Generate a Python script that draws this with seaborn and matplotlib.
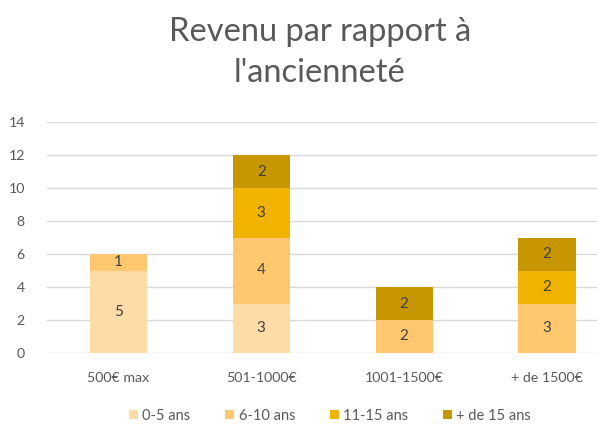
import numpy as np
import seaborn as sns
import matplotlib.pyplot as plt

# Données
categories = ['500€ max', '501-1000€', '1001-1500€', '+ de 1500€']
tranches = ['0-5 ans', '6-10 ans', '11-15 ans', '+ de 15 ans']
v_0_5 = [5, 3, 0, 0]
v_6_10 = [1, 4, 2, 3]
v_11_15 = [0, 3, 0, 2]
v_15_plus = [0, 2, 2, 2]
couleurs = ['#FFDBA8', '#FFC86E', '#F0B400', '#C79600']

sns.set_style("white")
plt.rcParams['font.family'] = ['Lato', 'DejaVu Sans']

fig = plt.figure(figsize=(5.97, 4.30), dpi=100)
ax = fig.add_axes([47 / 597, 77 / 430, 1 - 47 / 597, 231 / 430])

x = np.arange(len(categories))
bottom = np.zeros(len(categories))
for serie, nom, c in zip([v_0_5, v_6_10, v_11_15, v_15_plus], tranches, couleurs):
    vals = np.array(serie, dtype=float)
    bars = ax.bar(x, vals, width=0.4, bottom=bottom, color=c, label=nom,
                  linewidth=0, zorder=3)
    labels = [str(int(v)) if v > 0 else '' for v in vals]
    ax.bar_label(bars, labels=labels, label_type='center', color='#404040', fontsize=11)
    bottom += vals

ax.set_xlim(-0.5, 3.35)
ax.set_ylim(0, 14)
ax.set_yticks(range(0, 15, 2))
ax.yaxis.grid(True, color='#D9D9D9', linewidth=1, zorder=0)
ax.set_xticks(x)
ax.set_xticklabels(categories)
ax.tick_params(axis='both', length=0, colors='#595959', labelsize=10.2)
ax.tick_params(axis='x', pad=14)
ax.tick_params(axis='y', pad=16)
for s in ax.spines.values():
    s.set_visible(False)

fig.text(0.536, 0.878, "Revenu par rapport à\nl'ancienneté", ha='center', va='center',
         fontsize=23.5, color='#595959', linespacing=1.45)

fig.legend(loc='center', bbox_to_anchor=(0.553, 0.033), ncol=4, frameon=False,
           fontsize=10.5, labelcolor='#595959', handlelength=0.6, handleheight=0.6,
           handletextpad=0.3, columnspacing=2.4)

plt.savefig('out.png', dpi=100)
plt.close()
